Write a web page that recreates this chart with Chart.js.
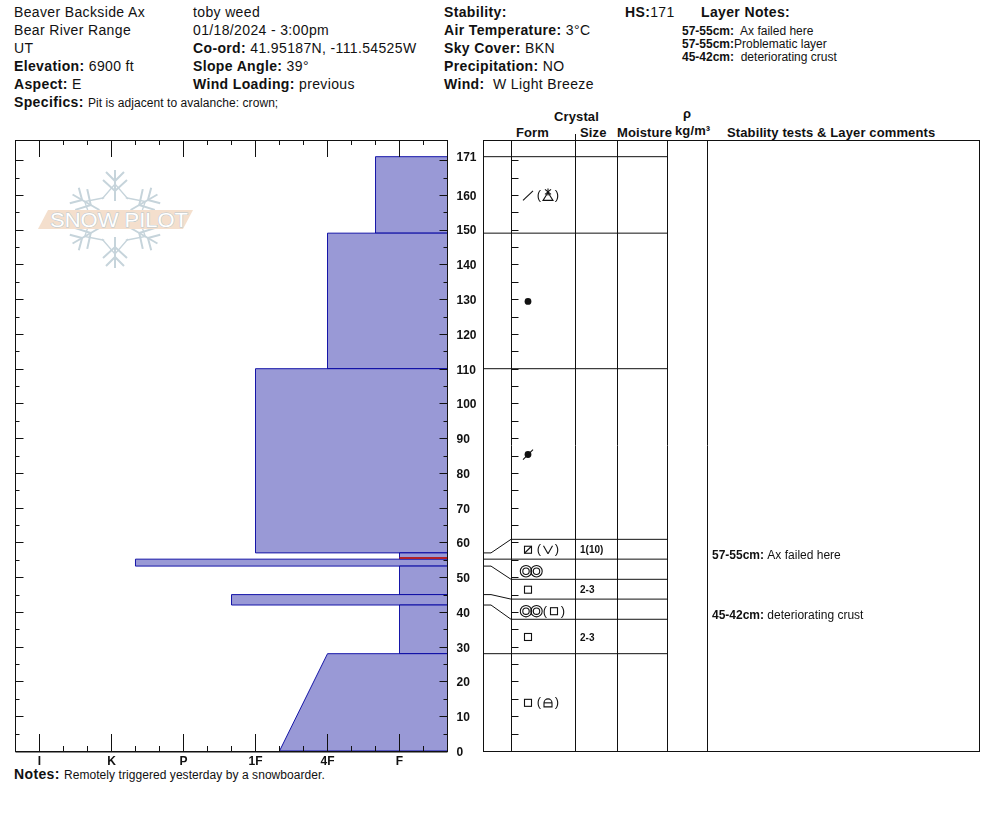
<!DOCTYPE html>
<html><head><meta charset="utf-8">
<script src="https://cdn.jsdelivr.net/npm/chart.js@4"></script>
<style>
html,body{margin:0;padding:0;background:#fff;overflow:hidden}
body{width:994px;height:840px;position:relative;font-family:"Liberation Sans",Arial,sans-serif;color:#111}
.t{position:absolute;white-space:pre;font-size:14px;line-height:18px;height:18px;letter-spacing:.36px}
.t span{font-size:12px;letter-spacing:.06px}
.s{font-size:12px;line-height:14px;height:14px;letter-spacing:0}
.h{font-size:13px;line-height:14px;height:14px;font-weight:bold;letter-spacing:.12px}
canvas{position:absolute;top:130px}
#logo{position:absolute;left:0;top:0}
</style></head><body>
<svg id="logo" width="300" height="300" viewBox="0 0 300 300">
  <defs>
    <g id="arm" stroke="#c6d4db" stroke-width="2" fill="none">
      <path d="M0,-18V-49"/><path d="M-9,-47L0,-38L9,-47"/><path d="M-12,-39L0,-28L12,-39"/><path d="M-13,-20L0,-35L13,-20" stroke-width="1.3"/>
    </g>
  </defs>
  <g transform="translate(115,219)">
    <use href="#arm"/><use href="#arm" transform="rotate(60)"/><use href="#arm" transform="rotate(120)"/>
    <use href="#arm" transform="rotate(180)"/><use href="#arm" transform="rotate(240)"/><use href="#arm" transform="rotate(300)"/>
  </g>
  <polygon points="38,229 48,210 193,210 183,229" fill="#f4dfcd"/>
  <text x="50" y="227" textLength="138" lengthAdjust="spacingAndGlyphs" font-family="Liberation Sans" font-size="20" fill="#ffffff" stroke="#b9c7cd" stroke-width="1" paint-order="stroke">SNOW PILOT</text>
</svg>

<div class="t" style="left:14px;top:3px">Beaver Backside Ax</div>
<div class="t" style="left:14px;top:21px">Bear River Range</div>
<div class="t" style="left:14px;top:39px">UT</div>
<div class="t" style="left:14px;top:57px"><b>Elevation:</b> 6900 ft</div>
<div class="t" style="left:14px;top:75px"><b>Aspect:</b> E</div>
<div class="t" style="left:14px;top:93px"><b>Specifics:</b> <span>Pit is adjacent to avalanche: crown;</span></div>
<div class="t" style="left:193px;top:3px">toby weed</div>
<div class="t" style="left:193px;top:21px">01/18/2024 - 3:00pm</div>
<div class="t" style="left:193px;top:39px"><b>Co-ord:</b> 41.95187N, -111.54525W</div>
<div class="t" style="left:193px;top:57px"><b>Slope Angle:</b> 39°</div>
<div class="t" style="left:193px;top:75px"><b>Wind Loading:</b> previous</div>
<div class="t" style="left:444px;top:3px"><b>Stability:</b></div>
<div class="t" style="left:444px;top:21px"><b>Air Temperature:</b> 3°C</div>
<div class="t" style="left:444px;top:39px"><b>Sky Cover:</b> BKN</div>
<div class="t" style="left:444px;top:57px"><b>Precipitation:</b> NO</div>
<div class="t" style="left:444px;top:75px"><b>Wind:</b>  W Light Breeze</div>
<div class="t" style="left:625px;top:3px"><b>HS:</b>171</div>
<div class="t" style="left:701px;top:3px"><b>Layer Notes:</b></div>
<div class="t s" style="left:682px;top:24px"><b>57-55cm:</b>  Ax failed here</div>
<div class="t s" style="left:682px;top:37px"><b>57-55cm:</b>Problematic layer</div>
<div class="t s" style="left:682px;top:50px"><b>45-42cm:</b>  deteriorating crust</div>

<div class="t h" style="left:554px;top:110px">Crystal</div>
<div class="t h" style="left:516px;top:126px">Form</div>
<div class="t h" style="left:580px;top:126px">Size</div>
<div class="t h" style="left:617px;top:126px">Moisture</div>
<div class="t h" style="left:683px;top:107px">ρ</div>
<div class="t h" style="left:675px;top:124px">kg/m³</div>
<div class="t h" style="left:727px;top:126px">Stability tests &amp; Layer comments</div>
<div class="t" style="left:14px;top:765px"><b>Notes:</b> <span>Remotely triggered yesterday by a snowboarder.</span></div>

<canvas id="profile" width="483" height="650" style="left:0"></canvas>
<canvas id="table" width="500" height="650" style="left:483px"></canvas>

<script>
// ---------- data ----------
const hardnessLabels = ['F','4F','1F','P','K','I'];
const hardnessValues = [1,2,3,4,5,6];
const depthLabels = [0,10,20,30,40,50,60,70,80,90,100,110,120,130,140,150,160,171];

const layerBottom     = [0,  28, 42,   45, 53.2, 55.2, 57,  110, 149];
const layerTop        = [28, 42, 45, 53.2, 55.2, 57,  110, 149, 171];
const hardnessAtBottom= [2.667,1,3.333,1,4.667,1,3,2,1.333];
const hardnessAtTop   = [2,    1,3.333,1,4.667,1,3,2,1.333];

const weakLayerDepth = [55.5];
const weakLayerHardness = [1, 0.333];

const rowBottom = [0,  28,  37.9,43.7,49.4,55.2,60.9,110,149];
const rowTop    = [28, 37.9,43.7,49.4,55.2,60.9,110, 149,171];
const rowForm      = ['square','square','rings','square','rings','squareSlash','dotLine','dot','slash'];
const rowSecondary = ['lock',  '',      'square','',     '',     'vee',        '',       '',   'tri'];
const rowSize      = ['',      '2-3',   '',     '2-3',   '',     '1(10)',      '',       '',   ''];

const boundaryTrue = [171,149,110,57,55.2,53.2,45,42,28];
const boundaryRow  = [171,149,110,60.9,55.2,49.4,43.7,37.9,28];

const commentDepth = [56.1, 38.8];
const commentHead  = ['57-55cm:','45-42cm:'];
const commentText  = ['Ax failed here','deteriorating crust'];

// ---------- styling / layout ----------
const INK='#111', FILL='#9999d6', EDGE='#0000a0', RED='#b0202a';
const FONT='"Liberation Sans", Arial, sans-serif';
const Y_MIN=0, Y_MAX=175.8, X_RIGHT=1/3, X_LEFT=19/3;
const snap=v=>Math.floor(v)+0.5;

function line(ctx,x1,y1,x2,y2){ctx.beginPath();ctx.moveTo(x1,y1);ctx.lineTo(x2,y2);ctx.stroke();}

const profileFrame={id:'profileFrame',afterDatasetsDraw(chart){
  const {ctx,chartArea:a,scales:{x,y}}=chart;
  ctx.save();ctx.strokeStyle=INK;ctx.lineWidth=1;
  x.ticks.forEach(t=>{
    const px=snap(x.getPixelForValue(t.value)+0.01);
    const major=hardnessValues.some(v=>Math.abs(v-t.value)<1e-6);
    const len=major?17:5;
    line(ctx,px,a.top,px,a.top+len);
    line(ctx,px,a.bottom,px,a.bottom-len);
  });
  y.ticks.forEach(t=>{
    if(t.value===171) return;
    const py=snap(y.getPixelForValue(t.value)+0.5);
    const len=t.value%10===0?8:4;
    line(ctx,a.left,py,a.left+len,py);
    line(ctx,a.right,py,a.right-len,py);
  });
  ctx.lineWidth=1;
  ctx.strokeRect(snap(a.left),snap(a.top),Math.round(a.width),Math.round(a.height));
  line(ctx,a.left,snap(a.bottom)+0.5,a.right,snap(a.bottom)+0.5);
  ctx.restore();
}};

function paren(ctx,cx,cy,txt){ctx.font='13px '+FONT;ctx.textAlign='center';ctx.textBaseline='middle';ctx.fillText(txt,cx,cy);}
function glyph(ctx,name,cx,cy){
  ctx.beginPath();
  switch(name){
    case 'square':ctx.strokeRect(cx-3.5,cy-3.5,7,7);break;
    case 'squareSlash':ctx.strokeRect(cx-3.5,cy-3.5,7,7);line(ctx,cx-3.5,cy+3.5,cx+3.5,cy-3.5);break;
    case 'rings':
      [-5,5.5].forEach(d=>{
        ctx.beginPath();ctx.arc(cx+d,cy,5.7,0,7);ctx.stroke();
        ctx.beginPath();ctx.arc(cx+d,cy,3.2,0,7);ctx.stroke();
      });break;
    case 'dot':ctx.arc(cx,cy,3.4,0,7);ctx.fill();break;
    case 'dotLine':ctx.arc(cx,cy,3.4,0,7);ctx.fill();line(ctx,cx-5,cy+5,cx+5,cy-5);break;
    case 'slash':line(ctx,cx-5,cy+5,cx+5,cy-4.5);break;
    case 'vee':line(ctx,cx-4.5,cy-4,cx,cy+4);line(ctx,cx,cy+4,cx+4.5,cy-4);break;
    case 'tri':
      ctx.moveTo(cx-5,cy+5);ctx.lineTo(cx+5,cy+5);ctx.lineTo(cx,cy-3);ctx.closePath();ctx.stroke();
      line(ctx,cx-3,cy-6,cx+3,cy-1);line(ctx,cx+3,cy-6,cx-3,cy-1);line(ctx,cx,cy-7,cx,cy);break;
    case 'lock':
      ctx.moveTo(cx-4,cy+4);ctx.lineTo(cx-4,cy);ctx.arc(cx,cy,4,Math.PI,0);ctx.lineTo(cx+4,cy+4);ctx.closePath();ctx.stroke();
      line(ctx,cx-4,cy,cx+4,cy);break;
  }
}

const tablePlugin={id:'tablePlugin',afterDatasetsDraw(chart){
  const {ctx,chartArea:a,scales:{x,y}}=chart;
  ctx.save();ctx.strokeStyle=INK;ctx.fillStyle=INK;ctx.lineWidth=1;
  // frame and columns
  ctx.strokeRect(snap(a.left),snap(a.top),Math.round(a.width),Math.round(a.height));
  [28,92,134,184,224].forEach(v=>{const p=snap(x.getPixelForValue(v)+0.01);line(ctx,p,a.top,p,a.bottom);});
  const sizeCol=snap(x.getPixelForValue(92)+0.01);line(ctx,sizeCol,a.top-6,sizeCol,a.top);
  // depth ticks on the Form axis
  const axisX=snap(x.getPixelForValue(28)+0.01);
  for(let d=0;d<=170;d+=5){const p=snap(y.getPixelForValue(d)+0.5);line(ctx,axisX,p,axisX+7,p);}
  // rows
  ctx.lineWidth=1.1;
  rowForm.forEach((form,i)=>{
    const mid=y.getPixelForValue((rowBottom[i]+rowTop[i])/2)+0.5;
    const cx=x.getPixelForValue(45);
    if(form==='rings') glyph(ctx,form,cx+3,mid+1.5); else glyph(ctx,form,cx,mid);
    if(rowSecondary[i]){
      const shift=form==='rings'?6:0;
      const my=form==='rings'?mid+1.5:mid;
      paren(ctx,cx+11+shift,my,'(');
      glyph(ctx,rowSecondary[i],cx+20+shift,my);
      paren(ctx,cx+29+shift,my,')');
    }
    if(rowSize[i]){
      ctx.font='bold 10px '+FONT;ctx.textAlign='left';ctx.textBaseline='middle';
      ctx.fillText(rowSize[i],x.getPixelForValue(97),mid+1);
    }
  });
  // comments
  commentHead.forEach((h,i)=>{
    const py=y.getPixelForValue(commentDepth[i]);
    const px=x.getPixelForValue(229);
    ctx.textAlign='left';ctx.textBaseline='middle';
    ctx.font='bold 12px '+FONT;ctx.fillText(h,px,py);
    const w=ctx.measureText(h+' ').width;
    ctx.font='12px '+FONT;ctx.fillText(commentText[i],px+w,py);
  });
  ctx.restore();
}};

// ---------- left chart: hand hardness profile ----------
const layerSets=layerBottom.map((b,i)=>({
  data:[
    {x:X_RIGHT,y:b},{x:hardnessAtBottom[i],y:b},
    {x:hardnessAtTop[i],y:layerTop[i]},{x:X_RIGHT,y:layerTop[i]},{x:X_RIGHT,y:b}
  ],
  showLine:true,fill:'shape',tension:0,pointRadius:0,
  backgroundColor:FILL,borderColor:EDGE,borderWidth:0.9
}));
const weakSet={
  data:weakLayerHardness.map(h=>({x:h,y:weakLayerDepth[0]})),
  showLine:true,fill:false,pointRadius:0,borderColor:RED,borderWidth:2,order:-1
};

new Chart(document.getElementById('profile'),{
  type:'scatter',
  data:{datasets:[...layerSets,weakSet]},
  plugins:[profileFrame],
  options:{
    responsive:false,animation:false,devicePixelRatio:1,
    layout:{autoPadding:false,padding:{left:15.5,top:10,right:0,bottom:0}},
    plugins:{legend:{display:false},tooltip:{enabled:false}},
    scales:{
      x:{type:'linear',reverse:true,min:X_RIGHT,max:X_LEFT,position:'bottom',
        grid:{display:false,drawTicks:false},border:{display:false},
        afterBuildTicks(s){const t=[];for(let k=1;k<=19;k++)t.push({value:k/3});s.ticks=t;},
        afterFit(s){s.height=29;s.paddingLeft=0;s.paddingRight=0;},
        ticks:{autoSkip:false,maxRotation:0,minRotation:0,padding:3,color:INK,
          font:{family:FONT,size:12,weight:'bold'},
          callback(v){const i=hardnessValues.findIndex(h=>Math.abs(h-v)<1e-6);return i<0?'':hardnessLabels[i];}}
      },
      y:{type:'linear',min:Y_MIN,max:Y_MAX,position:'right',
        grid:{display:false,drawTicks:false},border:{display:false},
        afterBuildTicks(s){const t=[];for(let d=0;d<=170;d+=5)t.push({value:d});t.push({value:171});s.ticks=t;},
        afterFit(s){s.width=35.5;s.paddingTop=0;s.paddingBottom=0;},
        ticks:{autoSkip:false,padding:9,labelOffset:1.5,color:INK,
          font:{family:FONT,size:12,weight:'bold'},
          callback(v){return depthLabels.includes(v)?String(v):'';}}
      }
    }
  }
});

// ---------- right chart: layer table ----------
const boundarySets=boundaryTrue.map((d,i)=>({
  data:[{x:0,y:d},{x:8,y:d},{x:28,y:boundaryRow[i]},{x:184,y:boundaryRow[i]}],
  showLine:true,tension:0,fill:false,pointRadius:0,borderColor:INK,borderWidth:1
}));

new Chart(document.getElementById('table'),{
  type:'scatter',
  data:{datasets:boundarySets},
  plugins:[tablePlugin],
  options:{
    responsive:false,animation:false,devicePixelRatio:1,
    layout:{autoPadding:false,padding:{left:0,top:10,right:4,bottom:29}},
    plugins:{legend:{display:false},tooltip:{enabled:false}},
    scales:{
      x:{type:'linear',min:0,max:496,display:false},
      y:{type:'linear',min:Y_MIN,max:Y_MAX,display:false}
    }
  }
});
</script>
</body></html>
